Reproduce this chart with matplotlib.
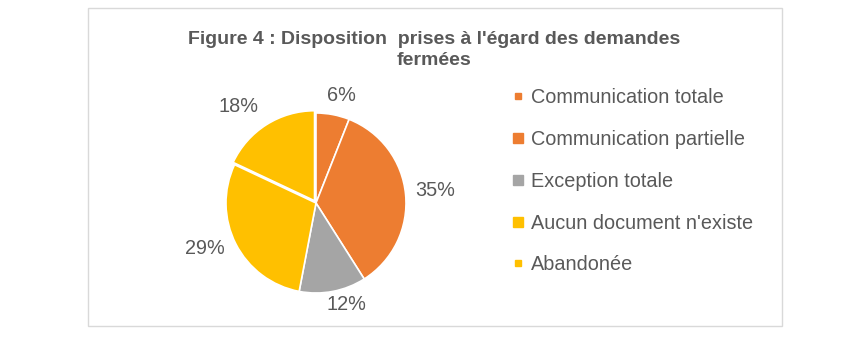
import matplotlib
matplotlib.use("Agg")
import matplotlib.pyplot as plt
from matplotlib.lines import Line2D
from matplotlib.patches import Rectangle
import numpy as np

categories = ["Communication totale", "Communication partielle", "Exception totale",
              "Aucun document n'existe", "Abandonée"]
values = [6, 35, 12, 29, 18]
colors = ["#ED7D31", "#ED7D31", "#A5A5A5", "#FFC000", "#FFC000"]
legend_marker_sizes = [4.3, 7.2, 7.2, 7.2, 4.3]
# label placement (distance in radii, angular nudge in degrees)
label_dist = [1.23, 1.33, 1.18, 1.33, 1.37]
label_nudge = [-2.7, 0.7, 6.1, -4.9, 6.3]
title = "Figure 4 : Disposition  prises à l'égard des demandes\nfermées"

W, H = 868, 339
fig = plt.figure(figsize=(W / 100, H / 100), dpi=100)
fig.patch.set_facecolor("white")

# outer border
fig.patches.append(Rectangle((88 / W, 1 - 326 / H), (782 - 88) / W, (326 - 8) / H,
                             transform=fig.transFigure, fill=False,
                             edgecolor="#D9D9D9", linewidth=1.0))

fig.text(434 / W, 1 - 50 / H, title, ha="center", va="center",
         fontsize=14, fontweight="bold", color="#595959",
         family=["Liberation Sans", "DejaVu Sans"],
         linespacing=1.35)

cx, cy, r = 316, 203, 90
ax = fig.add_axes([(cx - r) / W, 1 - (cy + r) / H, 2 * r / W, 2 * r / H])
explode = [0, 0, 0, 0, 0.03]
wedges, _ = ax.pie(values, colors=colors, startangle=90, counterclock=False,
                   explode=explode, radius=1.0,
                   wedgeprops=dict(edgecolor="white", linewidth=1.2))
ax.set_xlim(-1, 1)
ax.set_ylim(-1, 1)
ax.set_aspect("equal")
ax.axis("off")

total = sum(values)
for w, v, d, nd in zip(wedges, values, label_dist, label_nudge):
    ang = np.deg2rad((w.theta1 + w.theta2) / 2 + nd)
    ax.text(d * np.cos(ang), d * np.sin(ang), f"{round(100 * v / total)}%",
            ha="center", va="center", fontsize=14.3, color="#595959",
            family="Liberation Sans", clip_on=False)

handles = [Line2D([0], [0], marker="s", linestyle="none", markersize=ms,
                  markerfacecolor=c, markeredgecolor=c)
           for c, ms in zip(colors, legend_marker_sizes)]
leg = fig.legend(handles, categories, loc="upper left",
                 bbox_to_anchor=(512 / W, 1 - 88 / H),
                 frameon=False, handlelength=0.6, handletextpad=0.35,
                 labelspacing=1.15, borderaxespad=0, borderpad=0,
                 prop=dict(family="Liberation Sans", size=14.3))
for t in leg.get_texts():
    t.set_color("#595959")

fig.savefig("out.png", dpi=100, facecolor="white")
